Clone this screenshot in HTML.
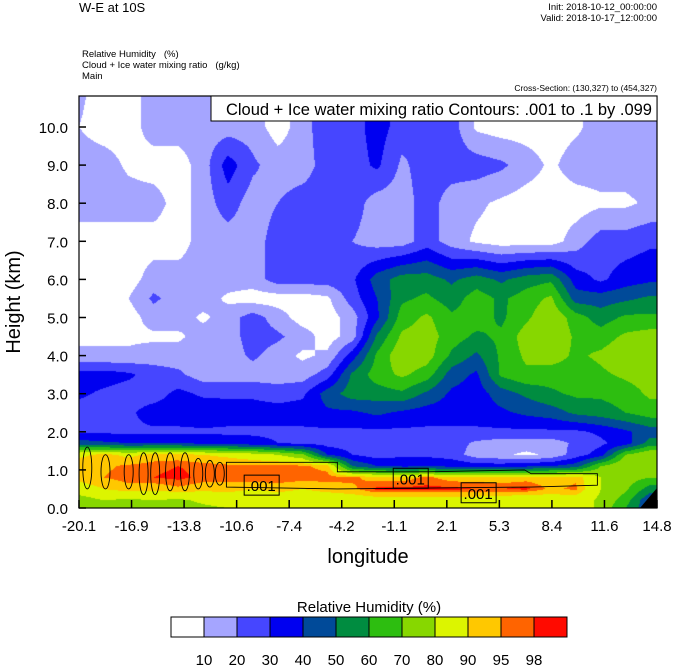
<!DOCTYPE html>
<html><head><meta charset="utf-8"><style>
body{margin:0;background:#fff;width:674px;height:667px;overflow:hidden;position:relative;font-family:"Liberation Sans",sans-serif;}
.t{position:absolute;white-space:nowrap;color:#000;}
</style></head><body>
<div class="t" style="left:79px;top:0px;font-size:13px;">W-E at 10S</div>
<div class="t" style="right:17px;top:2px;font-size:9.5px;">Init: 2018-10-12_00:00:00</div>
<div class="t" style="right:17px;top:13px;font-size:9.5px;">Valid: 2018-10-17_12:00:00</div>
<div class="t" style="left:82px;top:49px;font-size:9.5px;">Relative Humidity&nbsp;&nbsp;&nbsp;(%)</div>
<div class="t" style="left:82px;top:60px;font-size:9.5px;">Cloud + Ice water mixing ratio&nbsp;&nbsp;&nbsp;(g/kg)</div>
<div class="t" style="left:82px;top:71px;font-size:9.5px;">Main</div>
<div class="t" style="right:17px;top:83px;font-size:8.5px;">Cross-Section: (130,327) to (454,327)</div>
<svg id="chart" width="674" height="667" style="position:absolute;left:0;top:0">
<foreignObject x="79" y="96" width="578" height="412"><canvas id="cv" width="578" height="412" xmlns="http://www.w3.org/1999/xhtml"></canvas></foreignObject>
<g id="contours"></g>
<polygon points="640,508 657,488 657,508" fill="#000"/>
<rect x="79" y="96" width="578" height="412" fill="none" stroke="#000" stroke-width="1.2"/>
<g id="axes"></g>
<rect x="211" y="96" width="446" height="25" fill="#fff" stroke="#000"/>
<text x="652" y="115" text-anchor="end" font-size="16.5" font-family="Liberation Sans">Cloud + Ice water mixing ratio Contours: .001 to .1 by .099</text>
<text transform="translate(20,302) rotate(-90)" text-anchor="middle" font-size="20" font-family="Liberation Sans">Height (km)</text>
<text x="368" y="563" text-anchor="middle" font-size="20" font-family="Liberation Sans">longitude</text>
<text x="369" y="612" text-anchor="middle" font-size="15" font-family="Liberation Sans">Relative Humidity  (%)</text>
<g id="cbar"></g>
</svg>
<script>
const xTicks=["-20.1","-16.9","-13.8","-10.6","-7.4","-4.2","-1.1","2.1","5.3","8.4","11.6","14.8"];
const yTicks=[0,1,2,3,4,5,6,7,8,9,10];
const levels=[10,20,30,40,50,60,70,80,90,95,98];
const colors=["#ffffff","#a5a5ff","#4646ff","#0000f0","#004a99","#008c40","#2dbe10","#87d700","#dcf500","#ffc800","#ff6400","#ff0a00"];
const lons=[-20.1,-18.6,-17.1,-15.6,-14.1,-12.6,-11.1,-9.6,-8.1,-6.6,-5.1,-3.6,-2.1,-0.6,0.9,2.4,3.9,5.4,6.9,8.4,9.9,11.4,12.9,14.4];
const heights=[10.8,10,9,8,7,6,5.5,5,4.5,4,3.5,3,2.5,2,1.7,1.4,1.1,0.8,0.5,0.2,0];
const rh=[
[12,5,5,15,15,15,15,15,5,15,28,25,35,25,20,25,8,5,5,5,8,15,15,15],
[10,5,5,15,15,15,15,15,5,15,28,25,35,25,20,25,8,5,5,5,8,15,15,15],
[15,15,8,5,5,15,35,22,15,15,25,25,32,18,25,25,25,22,15,8,15,15,15,15],
[15,15,15,15,5,15,25,15,20,25,25,25,15,15,25,15,12,8,5,5,5,8,8,12],
[5,5,5,5,5,15,15,15,25,25,25,20,15,15,25,15,8,5,5,5,15,25,25,28],
[5,5,5,15,15,15,15,15,25,25,25,28,45,55,55,48,55,48,55,58,35,28,35,38],
[5,5,10,22,15,15,8,5,5,5,8,25,40,58,62,55,65,58,65,72,45,45,48,52],
[5,5,5,15,15,8,15,25,15,5,5,15,38,65,72,62,65,58,68,78,65,55,62,62],
[8,8,8,8,8,15,15,25,22,15,5,15,52,72,75,65,58,62,75,80,68,65,72,75],
[12,12,12,15,15,15,15,22,15,8,12,35,62,78,75,58,48,62,72,75,68,72,78,80],
[35,35,32,25,22,15,15,15,15,15,25,52,65,72,65,45,38,62,68,65,65,68,72,75],
[32,28,25,25,33,28,28,28,25,28,45,55,55,58,48,38,35,45,52,58,62,62,65,72],
[25,25,28,35,35,38,35,35,35,35,38,38,42,38,35,35,35,38,42,45,52,55,60,65],
[28,28,28,28,28,28,28,28,28,28,28,28,28,28,28,28,28,28,28,28,28,32,38,45],
[45,42,40,40,40,38,36,34,30,28,26,25,25,25,25,25,18,15,15,15,22,28,35,55],
[88,92,88,92,92,90,88,85,80,72,40,30,25,28,28,25,15,12,8,12,25,35,70,80],
[95,94,96,97,98,97,96,96,97,96,93,50,40,38,38,38,35,35,38,40,45,70,80,75],
[92,95,97,98,99,97,97,98,98,97,97,96,93,93,96,93,93,92,93,92,94,80,75,70],
[86,90,93,92,94,92,92,90,92,90,92,94,99,99,99,99,98,98,99,94,96,80,72,55],
[75,80,78,80,78,82,85,85,85,85,85,85,86,86,86,86,86,85,82,85,85,78,65,40],
[72,75,75,75,75,78,80,82,85,85,85,85,85,85,85,85,85,85,82,85,85,78,60,40]];
const ellLon=[-19.6,-18.5,-17.1,-16.2,-15.5,-14.6,-13.7,-12.9,-12.2,-11.6];
const ellH=[1.05,0.95,0.95,0.9,0.9,0.95,0.95,0.9,0.9,0.9];
const ellRy=[0.55,0.45,0.45,0.55,0.55,0.5,0.5,0.4,0.35,0.3];
const bandLon=[-11.2,-4.5,-4.5,1.0,6.8,7.2,11.2,11.2,7.2,-4.5,-11.2];
const bandH=[1.2,1.2,0.95,0.95,1.0,0.9,0.9,0.6,0.55,0.5,0.55];
const labLon=[-9.1,-0.1,4.0];
const labH=[0.6,0.78,0.4];
const NS="http://www.w3.org/2000/svg";
const X0=79,X1=657,Y0=508,PXKM=38.1;
function xs(l){return X0+(l+20.1)/34.9*(X1-X0);}
function ys(h){return Y0-h*PXKM;}
function interp(l,h){
 let i=0;while(i<lons.length-2&&l>lons[i+1])i++;
 let fx=(l-lons[i])/(lons[i+1]-lons[i]);fx=Math.max(0,Math.min(1,fx));
 let j=0;while(j<heights.length-2&&h<heights[j+1])j++;
 let fy=(heights[j]-h)/(heights[j]-heights[j+1]);fy=Math.max(0,Math.min(1,fy));
 const a=rh[j][i],b=rh[j][i+1],c=rh[j+1][i],d=rh[j+1][i+1];
 return (a*(1-fx)+b*fx)*(1-fy)+(c*(1-fx)+d*fx)*fy;}
const rgb=colors.map(c=>[parseInt(c.substr(1,2),16),parseInt(c.substr(3,2),16),parseInt(c.substr(5,2),16)]);
const cv=document.getElementById('cv'),ctx=cv.getContext('2d');
const img=ctx.createImageData(578,412);
for(let py=0;py<412;py++){const h=(Y0-(96+py+0.5))/PXKM;
 for(let px=0;px<578;px++){const l=-20.1+(px+0.5)/578*34.9;const v=interp(l,h);
  let k=0;while(k<levels.length&&v>=levels[k])k++;const c=rgb[k],o=(py*578+px)*4;
  img.data[o]=c[0];img.data[o+1]=c[1];img.data[o+2]=c[2];img.data[o+3]=255;}}
ctx.putImageData(img,0,0);
const cg=document.getElementById('contours');
for(let i=0;i<ellLon.length;i++){const e=document.createElementNS(NS,'ellipse');
 e.setAttribute('cx',xs(ellLon[i]));e.setAttribute('cy',ys(ellH[i]));e.setAttribute('rx',4.5);e.setAttribute('ry',ellRy[i]*PXKM);
 e.setAttribute('fill','none');e.setAttribute('stroke','#000');e.setAttribute('stroke-width','0.9');
 
 cg.appendChild(e);}
const bp=document.createElementNS(NS,'polygon');
bp.setAttribute('points',bandLon.map((l,i)=>xs(l)+','+ys(bandH[i])).join(' '));
bp.setAttribute('fill','none');bp.setAttribute('stroke','#000');bp.setAttribute('stroke-width','0.9');

cg.appendChild(bp);
for(let i=0;i<labLon.length;i++){const x=xs(labLon[i]),y=ys(labH[i]);
 const r=document.createElementNS(NS,'rect');r.setAttribute('x',x-17);r.setAttribute('y',y-10);r.setAttribute('width',35);r.setAttribute('height',20);
 r.setAttribute('fill','none');r.setAttribute('stroke','#000');
 
 cg.appendChild(r);
 const t=document.createElementNS(NS,'text');t.setAttribute('x',x);t.setAttribute('y',y+6);t.setAttribute('text-anchor','middle');
 t.setAttribute('font-size','15');t.setAttribute('font-family','Liberation Sans');t.textContent='.001';
 
 cg.appendChild(t);}
const ax=document.getElementById('axes');
yTicks.forEach(v=>{const y=ys(v);
 const l=document.createElementNS(NS,'line');l.setAttribute('x1',X0);l.setAttribute('x2',X0+7);l.setAttribute('y1',y);l.setAttribute('y2',y);l.setAttribute('stroke','#000');l.setAttribute('stroke-width','1.5');
 
 ax.appendChild(l);
 const t=document.createElementNS(NS,'text');t.setAttribute('x',68);t.setAttribute('y',y+6);t.setAttribute('text-anchor','end');t.setAttribute('font-size','15');t.setAttribute('font-family','Liberation Sans');t.textContent=v.toFixed(1);
 
 ax.appendChild(t);});
xTicks.forEach((s,i)=>{const x=X0+i*(X1-X0)/(xTicks.length-1);
 const l=document.createElementNS(NS,'line');l.setAttribute('x1',x);l.setAttribute('x2',x);l.setAttribute('y1',Y0);l.setAttribute('y2',Y0-8);l.setAttribute('stroke','#000');l.setAttribute('stroke-width','1.5');
 
 ax.appendChild(l);
 const t=document.createElementNS(NS,'text');t.setAttribute('x',x);t.setAttribute('y',531);t.setAttribute('text-anchor','middle');t.setAttribute('font-size','15');t.setAttribute('font-family','Liberation Sans');t.textContent=s;
 
 ax.appendChild(t);});
const cb=document.getElementById('cbar');const bw=396/colors.length;
colors.forEach((c,i)=>{const r=document.createElementNS(NS,'rect');r.setAttribute('x',171+i*bw);r.setAttribute('y',617);r.setAttribute('width',bw);r.setAttribute('height',20);r.setAttribute('fill',c);r.setAttribute('stroke','#000');
 
 cb.appendChild(r);});
levels.forEach((v,i)=>{const t=document.createElementNS(NS,'text');t.setAttribute('x',171+(i+1)*bw);t.setAttribute('y',665);t.setAttribute('text-anchor','middle');t.setAttribute('font-size','15');t.setAttribute('font-family','Liberation Sans');t.textContent=v;
 
 cb.appendChild(t);});
</script>
</body></html>
